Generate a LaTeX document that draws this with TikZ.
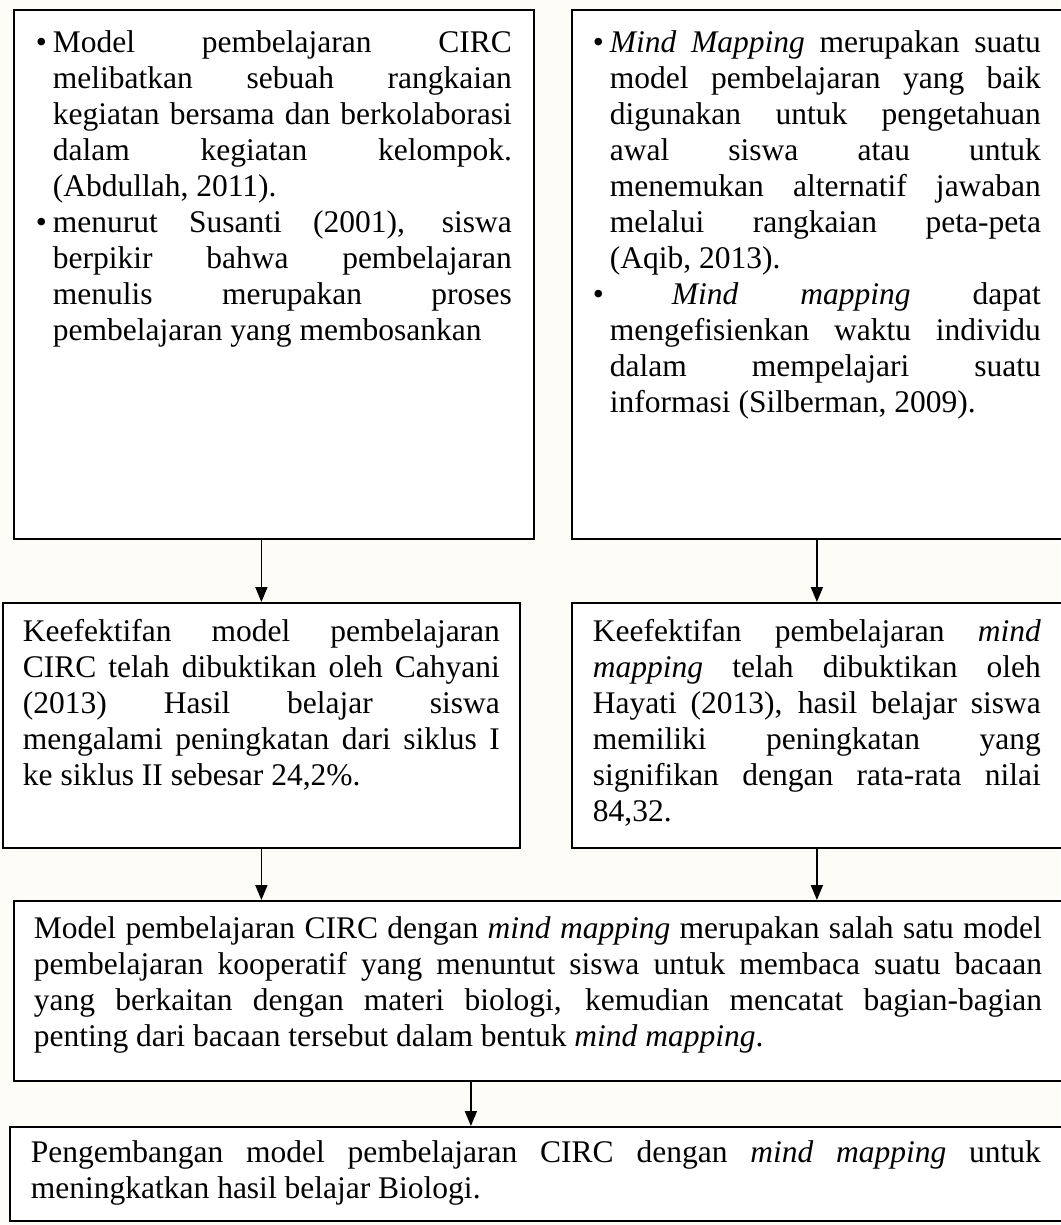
\documentclass[tikz,border=0pt]{standalone}
\usepackage{fontspec}
\setmainfont{Liberation Serif}
\usepackage{xcolor}
\usetikzlibrary{arrows.meta, positioning}

\definecolor{paper}{HTML}{FDFCF6}
\newcommand\bodyFont{\fontsize{31.5}{36}\selectfont\tolerance=10000\hbadness=10000\hyphenpenalty=10000\exhyphenpenalty=10000}
\newcommand\bulletItem{\par\noindent\hangindent=17pt\hangafter=1\makebox[17pt][l]{\strut\textbullet}}

\tikzset{
  frameBox/.style={draw, line width=1.8pt, fill=white, anchor=north west, inner ysep=#1},
  frameBox/.default=14pt,
  arrowDown/.style={line width=1.8pt, -{Triangle[width=12pt,length=15pt]}},
}

\begin{document}
\begin{tikzpicture}[x=1pt, y=-1pt]
\fill[paper] (0,0) rectangle (1060,1225);
\useasboundingbox (0,0) rectangle (1060,1225);

\node[frameBox=17.8pt, inner xsep=22pt] (boxA) at (13,9) {\parbox[c][493.4pt][t]{476pt}{\bodyFont
  \bulletItem Model pembelajaran CIRC\linebreak melibatkan sebuah rangkaian\linebreak kegiatan bersama dan berkolaborasi\linebreak dalam kegiatan kelompok.\linebreak (Abdullah, 2011).
  \bulletItem menurut Susanti (2001), siswa\linebreak berpikir bahwa pembelajaran\linebreak menulis merupakan proses\linebreak pembelajaran yang membosankan\par}};

\node[frameBox=17.8pt, inner xsep=21pt] (boxB) at (571,9) {\parbox[c][493.4pt][t]{448pt}{\bodyFont
  \bulletItem\textit{Mind Mapping} merupakan suatu\linebreak model pembelajaran yang baik\linebreak digunakan untuk pengetahuan\linebreak awal siswa atau untuk\linebreak menemukan alternatif jawaban\linebreak melalui rangkaian peta-peta\linebreak (Aqib, 2013).
  \bulletItem\ \textit{Mind mapping} dapat\linebreak mengefisienkan waktu individu\linebreak dalam mempelajari suatu\linebreak informasi (Silberman, 2009).\par}};

\node[frameBox=13.8pt, inner xsep=20pt] (boxC) at (2,602) {\parbox[c][217.4pt][t]{477pt}{\bodyFont\strut
  Keefektifan model pembelajaran\linebreak CIRC telah dibuktikan oleh Cahyani\linebreak (2013) Hasil belajar siswa\linebreak mengalami peningkatan dari siklus I\linebreak ke siklus II sebesar 24,2\%.\par}};

\node[frameBox=13.8pt, inner xsep=21pt] (boxD) at (571,602) {\parbox[c][217.4pt][t]{448pt}{\bodyFont\strut
  Keefektifan pembelajaran \textit{mind}\linebreak \textit{mapping} telah dibuktikan oleh\linebreak Hayati (2013), hasil belajar siswa\linebreak memiliki peningkatan yang\linebreak signifikan dengan rata-rata nilai\linebreak 84,32.\par}};

\node[frameBox=12.8pt, inner xsep=20pt] (boxE) at (13,900) {\parbox[c][154.4pt][t]{1008pt}{\bodyFont\strut
  Model pembelajaran CIRC dengan \textit{mind mapping} merupakan salah satu model\linebreak pembelajaran kooperatif yang menuntut siswa untuk membaca suatu bacaan\linebreak yang berkaitan dengan materi biologi, kemudian mencatat bagian-bagian\linebreak penting dari bacaan tersebut dalam bentuk \textit{mind mapping}.\par}};

\node[frameBox=10.8pt, inner xsep=21pt] (boxF) at (9,1126) {\parbox[c][72.4pt][t]{1010pt}{\bodyFont\strut
  Pengembangan model pembelajaran CIRC dengan \textit{mind mapping} untuk\linebreak meningkatkan hasil belajar Biologi.\par}};

\foreach \a/\b in {boxA/boxC, boxB/boxD}
  \draw[arrowDown] (\a.south -| \b.north) -- (\b.north);
\foreach \a in {boxC, boxD}
  \draw[arrowDown] (\a.south) -- (\a.south |- boxE.north);
\draw[arrowDown] ([xshift=-67pt]boxE.south) -- ([xshift=-67pt]boxE.south |- boxF.north);

\end{tikzpicture}
\end{document}
